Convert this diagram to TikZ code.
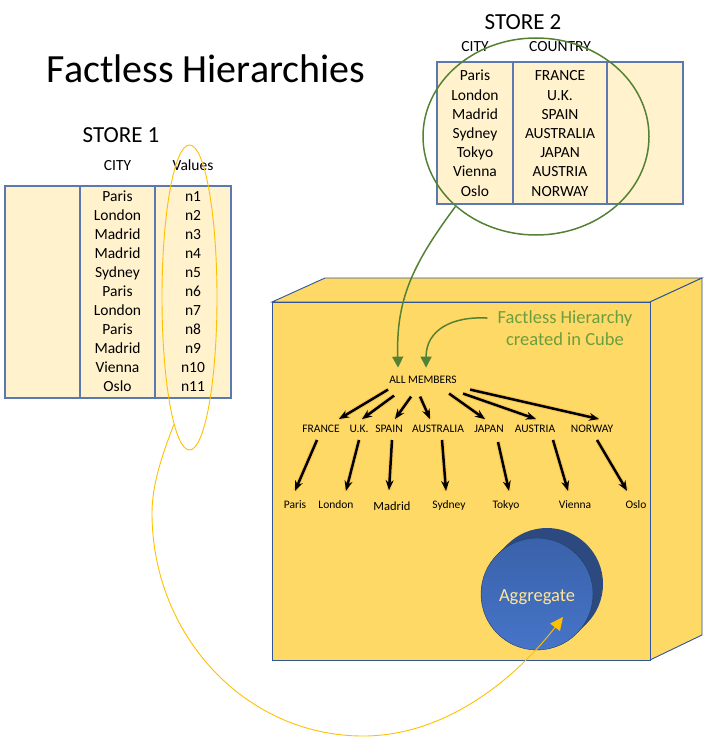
\documentclass[tikz,border=0pt]{standalone}
\usepackage{fontspec}
\setmainfont{Carlito}
\usetikzlibrary{arrows.meta,calc,shapes.geometric}
\definecolor{tblfill}{HTML}{FFF2CC}
\definecolor{tblline}{HTML}{5B78B0}
\definecolor{cubefill}{HTML}{FFD966}
\definecolor{cubeline}{HTML}{2F5597}
\definecolor{grn}{HTML}{548235}
\definecolor{grntxt}{HTML}{6A9E3F}
\definecolor{ylw}{HTML}{FFC000}
\definecolor{aggtop}{HTML}{3A62AA}
\definecolor{aggbot}{HTML}{4674C8}
\definecolor{aggback}{HTML}{2C4A80}
\definecolor{aggtxt}{HTML}{FFE699}
\definecolor{glow}{HTML}{E8A030}
\begin{document}
\begin{tikzpicture}[x=1pt,y=-1pt,
  tbl/.style={fill=tblfill, draw=tblline, line width=1.1pt},
  colline/.style={draw=tblline, line width=1.1pt},
  cell/.style={font=\fontsize{15.5}{18}\selectfont, inner sep=0pt, anchor=base},
  storettl/.style={font=\fontsize{23}{26}\selectfont, inner sep=0pt, anchor=base},
  lvl/.style={font=\fontsize{11.5}{13}\selectfont, inner sep=1pt, anchor=base},
  tarr/.style={-{Stealth[length=10pt,width=8pt]}, line width=2.5pt, black,
    preaction={draw=glow, line width=4.6pt, opacity=0.35, -}},
  garr/.style={draw=grn, line width=1.5pt, -{Triangle[length=11pt,width=11pt]}},
  yarr/.style={draw=ylw, line width=0.9pt, -{Triangle[length=13pt,width=12pt]}},
]
\useasboundingbox (0,0) rectangle (704,738);

% title
\node[font=\fontsize{40}{44}\selectfont, inner sep=0pt, anchor=base] (title) at (206,83) {Factless Hierarchies};

% ---------- STORE 1 ----------
\node[storettl] (s1title) at (121,142.7) {STORE 1};
\node[cell] (s1hcity) at (117.5,170.7) {CITY};
\node[cell] (s1hval) at (193,170.7) {Values};
\draw[tbl] (5,186) rectangle (231,398);
\draw[colline] (80,186) -- (80,398);
\draw[colline] (155,186) -- (155,398);
\foreach \c/\v [count=\i from 0] in {Paris/n1,London/n2,Madrid/n3,Madrid/n4,Sydney/n5,Paris/n6,London/n7,Paris/n8,Madrid/n9,Vienna/n10,Oslo/n11}{
  \node[cell] (s1c\i) at (117.5,201+19.07*\i) {\c};
  \node[cell] (s1v\i) at (193,201+19.07*\i) {\v};
}
\node[draw=ylw, line width=0.9pt, ellipse, minimum width=55pt, minimum height=305pt, inner sep=0pt] (vell) at (189.5,297.5) {};

% ---------- STORE 2 ----------
\node[storettl] (s2title) at (523,30) {STORE 2};
\node[cell] (s2hcity) at (475,51.7) {CITY};
\node[cell] (s2hcty) at (560,51.7) {COUNTRY};
\draw[tbl] (437,62) rectangle (683,204);
\draw[colline] (513,62) -- (513,204);
\draw[colline] (607,62) -- (607,204);
\foreach \c/\k [count=\i from 0] in {Paris/FRANCE,London/U.K.,Madrid/SPAIN,Sydney/AUSTRALIA,Tokyo/JAPAN,Vienna/AUSTRIA,Oslo/NORWAY}{
  \node[cell] (s2c\i) at (475,81+19.17*\i) {\c};
  \node[cell] (s2k\i) at (560,81+19.17*\i) {\k};
}
\node[draw=grn, line width=1.5pt, ellipse, minimum width=226pt, minimum height=197pt, inner sep=0pt] (gell) at (536,136.5) {};

% ---------- CUBE ----------
\filldraw[fill=cubefill, draw=cubeline, line width=0.9pt] (272,302) -- (325,278) -- (702,278) -- (650,302) -- cycle;
\filldraw[fill=cubefill, draw=cubeline, line width=0.9pt] (650,302) -- (702,278) -- (702,635) -- (650,660) -- cycle;
\filldraw[fill=cubefill, draw=cubeline, line width=0.9pt] (272,302) rectangle (650,660);

% ---------- Aggregate cylinder ----------
\fill[aggback] (547,584) circle (56);
\fill[aggback] (497.4,554.4) -- (507.4,544.4) -- (586.6,623.6) -- (576.6,633.6) -- cycle;
\node[circle, minimum size=112pt, inner sep=0pt, top color=aggtop, bottom color=aggbot, draw=aggback!80!black, line width=0.4pt] (agg) at (537,594) {};
\node[font=\fontsize{18.5}{20}\selectfont, text=aggtxt, inner sep=0pt, anchor=base] (aggtext) at (537,601) {Aggregate};

% ---------- tree ----------
\node[lvl] (all) at (423,383.3) {ALL MEMBERS};
\node[lvl] (fr) at (321,432.7) {FRANCE};
\node[lvl] (uk) at (359,432.7) {U.K.};
\node[lvl] (sp) at (389,432.7) {SPAIN};
\node[lvl] (au) at (438,432.7) {AUSTRALIA};
\node[lvl] (jp) at (489,432.7) {JAPAN};
\node[lvl] (at) at (535,432.7) {AUSTRIA};
\node[lvl] (no) at (592,432.7) {NORWAY};
\node[lvl] (pa) at (295,508) {Paris};
\node[lvl] (lo) at (336,508) {London};
\node[lvl, font=\fontsize{12.5}{14}\selectfont] (ma) at (392,510) {Madrid};
\node[lvl] (sy) at (449,508) {Sydney};
\node[lvl] (to) at (506,508) {Tokyo};
\node[lvl] (vi) at (575,508) {Vienna};
\node[lvl] (os) at (636,508) {Oslo};

\draw[tarr] ($(all.south west)+(0,5)$) -- ($(fr.north)+(18,-5)$);
\draw[tarr] ($(all.south west)+(6,11)$) -- ($(uk.north)+(3,-5)$);
\draw[tarr] ($(all.south west)+(23,12)$) -- ($(sp.north)+(6,-5)$);
\draw[tarr] ($(all.south west)+(32,12)$) -- ($(au.north)+(-8,-5)$);
\draw[tarr] ($(all.south west)+(61,9)$) -- ($(jp.north)+(-4,-5)$);
\draw[tarr] ($(all.south west)+(75,9)$) -- ($(at.north)+(1,-5)$);
\draw[tarr] ($(all.south west)+(82,5)$) -- ($(no.north)+(7,-5)$);

\draw[tarr] ($(fr.south)+(-4,6)$) -- ($(pa.north)+(0,-8)$);
\draw[tarr] ($(uk.south)+(0,6)$) -- ($(lo.north)+(10,-8)$);
\draw[tarr] ($(sp.south)+(3,6)$) -- ($(ma.north)+(-3,-10)$);
\draw[tarr] ($(au.south)+(4,6)$) -- ($(sy.north)+(-3,-8)$);
\draw[tarr] ($(jp.south)+(9,8)$) -- ($(to.north)+(3,-8)$);
\draw[tarr] ($(at.south)+(18,6)$) -- ($(vi.north)+(-7,-8)$);
\draw[tarr] ($(no.south)+(5,6)$) -- ($(os.north)+(-9,-8)$);

% ---------- green annotation ----------
\node[font=\fontsize{18.5}{20}\selectfont, text=grntxt, inner sep=0pt, anchor=base] (fh) at (565,323) {Factless Hierarchy};
\node[font=\fontsize{18.5}{20}\selectfont, text=grntxt, inner sep=0pt, anchor=base] (cic) at (565,345) {created in Cube};

\draw[garr] (gell.221) .. controls (412,265) and (396,300) .. ($(all.north west)+(10,-7)$);
\draw[garr] ($(fh.west)+(-10,0)$) .. controls (452,316) and (426,330) .. ($(all.north west)+(38,-7)$);

% ---------- yellow connector ----------
\draw[yarr] (vell.263) .. controls (162,455) and (152,485) .. (152,513)
  .. controls (152,636) and (246,736) .. (363,736)
  .. controls (453,736) and (523,669) .. ($(agg.center)+(26,23)$);
\end{tikzpicture}
\end{document}
